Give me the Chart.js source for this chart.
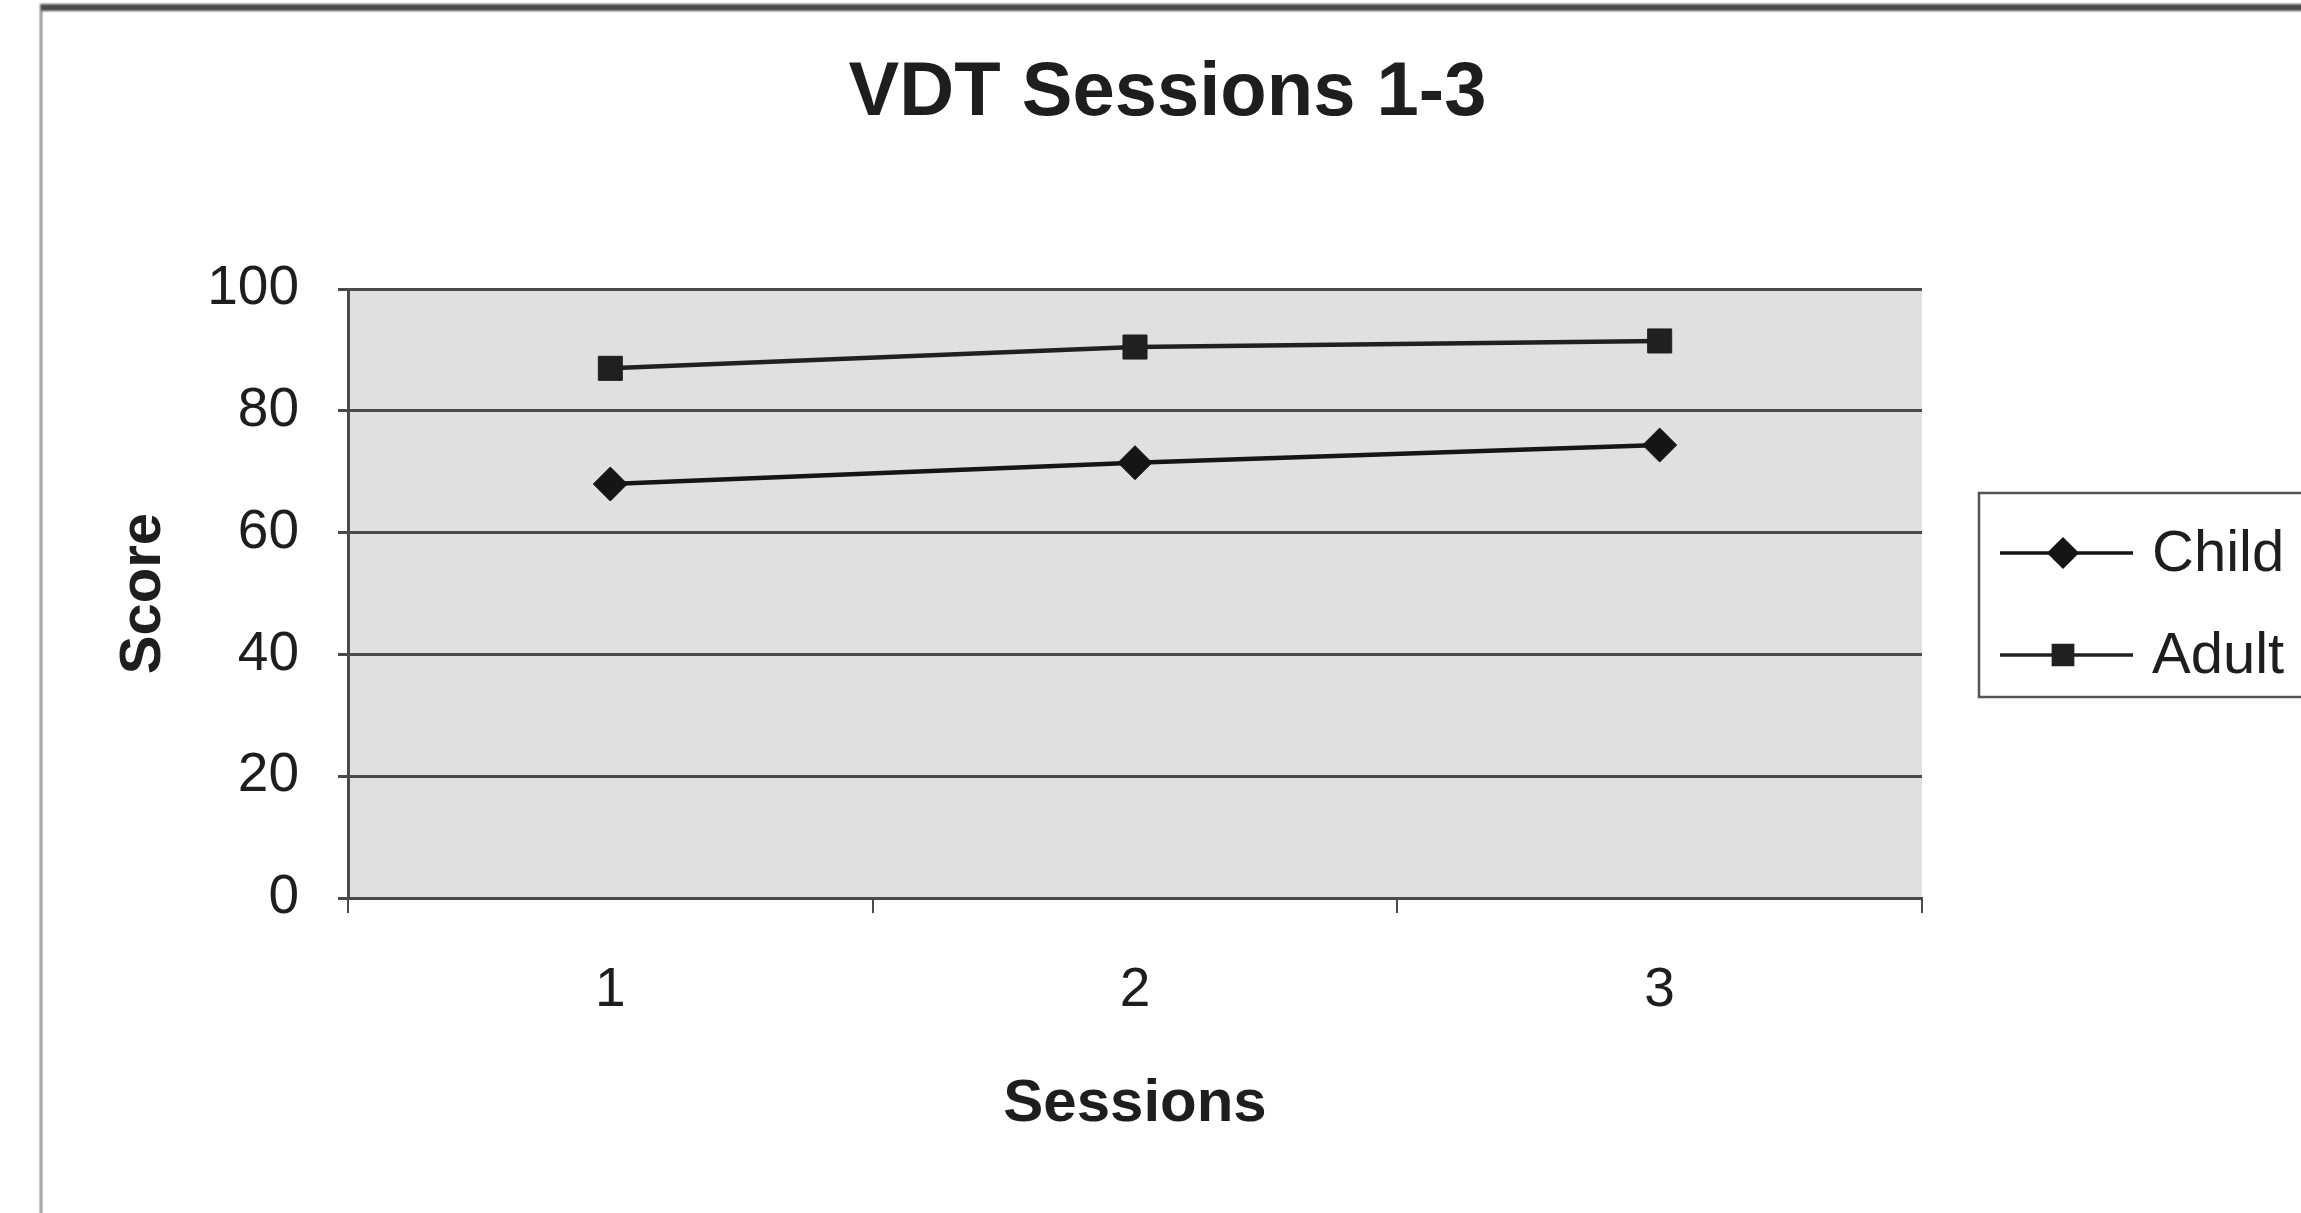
<!DOCTYPE html>
<html>
<head>
<meta charset="utf-8">
<title>VDT Sessions 1-3</title>
<script src="https://cdn.jsdelivr.net/npm/chart.js@4/dist/chart.umd.min.js"></script>
<style>
  html, body { margin: 0; padding: 0; background: #ffffff; }
  #wrap { position: relative; width: 2301px; height: 1213px; overflow: hidden; }
  #frame {
    position: absolute; left: 40px; top: 4px; width: 2400px; height: 1204px;
    border-left: 2px solid #6a6a6a; border-top: 7px solid #4a4a4a; border-bottom: 3px solid #7a7a7a;
    filter: blur(1px); pointer-events: none;
  }
  canvas { position: absolute; left: 0; top: 0; }
</style>
</head>
<body>
<div id="wrap">
  <div id="frame"></div>
  <canvas id="chart" width="2301" height="1213"></canvas>
</div>
<script>
// Session labels and mean scores per group
const sessions = ['1', '2', '3'];
const childScores = [68, 71.5, 74.4];
const adultScores = [87, 90.5, 91.5];
const seriesNames = ['Child', 'Adult'];
const scoreMin = 0;
const scoreMax = 100;
const scoreStep = 20;

const FONT = '"Liberation Sans", Arial, Helvetica, sans-serif';
const INK = '#1e1e1e';
const GRID = '#4a4a4a';

// Grey plot background
const plotBackground = {
  id: 'plotBackground',
  beforeDraw(chart) {
    const { ctx, chartArea: a } = chart;
    ctx.save();
    ctx.fillStyle = '#e0e0e0';
    ctx.fillRect(a.left, a.top, a.right - a.left, a.bottom - a.top);
    ctx.restore();
  }
};

// Boxed legend with a line through each marker
const boxedLegend = {
  id: 'boxedLegend',
  afterDraw(chart) {
    const { ctx } = chart;
    const box = { x: 1979, y: 493, w: 400, h: 204 };
    ctx.save();
    ctx.fillStyle = '#ffffff';
    ctx.fillRect(box.x, box.y, box.w, box.h);
    ctx.strokeStyle = '#555555';
    ctx.lineWidth = 2.5;
    ctx.strokeRect(box.x, box.y, box.w, box.h);
    const rows = [553, 655];
    chart.data.datasets.forEach((ds, i) => {
      const y = rows[i];
      ctx.strokeStyle = ds.borderColor;
      ctx.lineWidth = 3.5;
      ctx.beginPath();
      ctx.moveTo(2000, y);
      ctx.lineTo(2133, y);
      ctx.stroke();
      ctx.fillStyle = ds.pointBackgroundColor;
      ctx.strokeStyle = ds.pointBorderColor;
      Chart.helpers.drawPoint(ctx, {
        pointStyle: ds.pointStyle,
        radius: ds.pointRadius * 0.8,
        borderWidth: 1,
        rotation: 0
      }, 2063, y);
      ctx.fillStyle = INK;
      ctx.font = '58px ' + FONT;
      ctx.textAlign = 'left';
      ctx.textBaseline = 'middle';
      ctx.fillText(ds.label, 2152, y + 2);
    });
    ctx.restore();
  }
};

new Chart(document.getElementById('chart'), {
  type: 'line',
  data: {
    labels: sessions,
    datasets: [
      {
        label: seriesNames[0],
        data: childScores,
        borderColor: '#151515',
        borderWidth: 4.5,
        pointStyle: 'rectRot',
        pointRadius: 17,
        pointBackgroundColor: '#151515',
        pointBorderColor: '#151515',
        pointBorderWidth: 1,
        tension: 0
      },
      {
        label: seriesNames[1],
        data: adultScores,
        borderColor: '#202020',
        borderWidth: 4.5,
        pointStyle: 'rect',
        pointRadius: 17,
        pointBackgroundColor: '#202020',
        pointBorderColor: '#202020',
        pointBorderWidth: 1,
        tension: 0
      }
    ]
  },
  options: {
    responsive: false,
    animation: false,
    events: [],
    layout: { padding: { top: 0, left: 34, right: 0, bottom: 0 } },
    plugins: {
      legend: { display: false },
      tooltip: { enabled: false },
      title: {
        display: true,
        text: 'VDT Sessions 1-3',
        color: INK,
        font: { family: FONT, size: 76, weight: 'bold', lineHeight: 1.2 },
        padding: { top: 48, bottom: 150 }
      }
    },
    scales: {
      x: {
        type: 'category',
        offset: true,
        grid: {
          offset: true,
          drawOnChartArea: false,
          drawTicks: true,
          tickLength: 15,
          color: GRID,
          lineWidth: 2
        },
        border: { display: true, color: GRID, width: 3 },
        ticks: {
          color: INK,
          padding: 45,
          font: { family: FONT, size: 55, lineHeight: 1.2 }
        },
        title: {
          display: true,
          text: 'Sessions',
          color: INK,
          font: { family: FONT, size: 60, weight: 'bold', lineHeight: 1.2 },
          padding: { top: 0, bottom: 73 }
        },
        afterFit(scale) { scale.height = 315; }
      },
      y: {
        min: scoreMin,
        max: scoreMax,
        grid: {
          color: GRID,
          lineWidth: 3,
          drawTicks: true,
          tickLength: 10
        },
        border: { display: true, color: GRID, width: 3 },
        ticks: {
          stepSize: scoreStep,
          color: INK,
          padding: 39,
          font: { family: FONT, size: 55, lineHeight: 1.2 }
        },
        title: {
          display: true,
          text: 'Score',
          color: INK,
          font: { family: FONT, size: 58, weight: 'bold', lineHeight: 1.2 },
          padding: { top: 75, bottom: 0 }
        },
        afterFit(scale) { scale.width = 314; }
      },
      // Empty right-hand band that leaves room for the legend box
      legendSpace: {
        type: 'linear',
        position: 'right',
        display: true,
        grid: { display: false, drawTicks: false },
        border: { display: false },
        ticks: { display: false },
        afterFit(scale) { scale.width = 379; }
      }
    }
  },
  plugins: [plotBackground, boxedLegend]
});
</script>
</body>
</html>
